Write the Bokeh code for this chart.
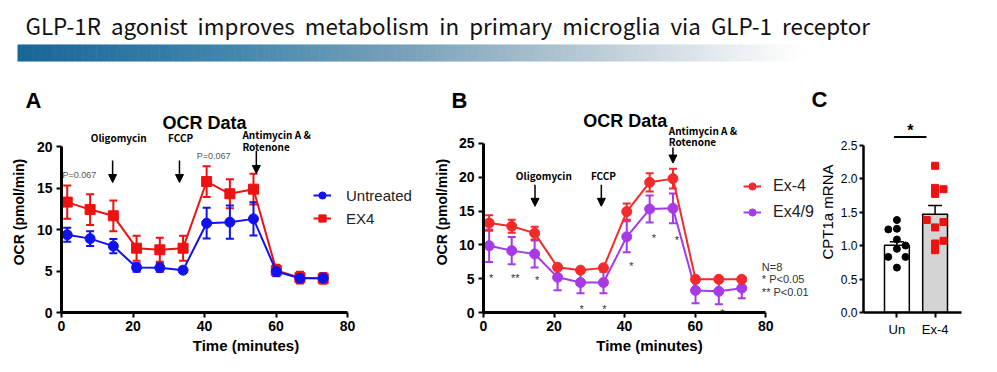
import numpy as np
from bokeh.plotting import figure
from bokeh.layouts import column, row
from bokeh.models import (Range1d, Whisker, ColumnDataSource, Label, Arrow, NormalHead,
                          TeeHead, Legend, LegendItem, FixedTicker, NumeralTickFormatter)
from bokeh.embed import file_html
from bokeh.resources import INLINE

# ---------------- data ----------------
title_words = ["GLP-1R", "agonist", "improves", "metabolism", "in", "primary", "microglia",
               "via", "GLP-1", "receptor"]
panel_letters = ["A", "B", "C"]

time_min = [1.6, 8.0, 14.5, 21.0, 27.5, 34.0, 40.6, 47.1, 53.7, 60.1, 66.7, 73.2]

untreated_mean = [9.36, 8.9, 8.0, 5.42, 5.4, 5.1, 10.76, 10.88, 11.28, 4.94, 4.13, 4.13]
untreated_err = [0.85, 0.88, 0.85, 0.5, 0.5, 0.3, 1.85, 2.0, 2.0, 0.5, 0.5, 0.55]
ex4a_mean = [13.3, 12.4, 11.65, 7.75, 7.55, 7.75, 15.78, 14.3, 14.86, 5.06, 4.2, 4.1]
ex4a_err = [2.0, 1.85, 1.85, 1.5, 1.45, 1.5, 1.85, 1.75, 1.85, 0.7, 0.7, 0.65]

ex4b_mean = [13.23, 12.75, 11.74, 6.69, 6.26, 6.6, 14.92, 19.25, 19.8, 4.9, 4.9, 4.9]
ex4b_err = [1.15, 0.95, 0.95, 0.3, 0.3, 0.3, 1.2, 1.35, 1.45, 0.3, 0.3, 0.3]
ex49_mean = [9.87, 9.15, 8.66, 5.2, 4.43, 4.43, 11.2, 15.3, 15.4, 3.27, 3.13, 3.6]
ex49_err = [2.4, 2.0, 2.0, 1.9, 1.6, 1.6, 2.3, 2.0, 2.2, 1.9, 1.9, 1.5]

star_x = [2.2, 9.0, 15.2, 27.8, 34.3, 41.9, 48.3, 54.8, 67.7]
star_y = [5.8, 5.8, 5.5, 1.3, 1.3, 7.6, 11.7, 11.5, 0.7]
star_txt = ["*", "**", "*", "*", "*", "*", "*", "*", "*"]

c_groups = ["Un", "Ex-4"]
c_mean = [1.005, 1.466]
c_sem = [0.05, 0.13]
un_vals = [1.38, 1.24, 1.25, 1.09, 1.00, 0.95, 0.83, 0.83, 0.67]
ex4_vals = [2.19, 1.86, 1.84, 1.77, 1.38, 1.35, 1.27, 1.07, 1.03, 0.93]
un_jitter = [0, -1, 0, 0, 1, 0, -1, 1, 0]
ex4_jitter = [0, 0, 1, 0, -1, 1, 0, 1, 0, 0]

BOLD = "Liberation Sans"
KFONT = "Noto Sans CJK KR"
HDR_H = 111

# ---------------- header ----------------
hdr = figure(width=989, height=HDR_H, x_range=Range1d(0, 989), y_range=Range1d(HDR_H, 0),
             output_backend="svg", toolbar_location=None, x_axis_type=None, y_axis_type=None,
             min_border=0, outline_line_color=None)
hdr.grid.visible = False
edges = np.linspace(17, 804, 301)
stops_t = [0.0, 0.25, 0.5, 0.75, 0.92, 1.0]
stops_c = np.array([[24, 102, 152], [62, 132, 172], [122, 162, 186], [190, 206, 216],
                    [236, 240, 243], [255, 255, 255]], dtype=float)
mid = np.linspace(0, 1, 300)
cols = ["#%02x%02x%02x" % tuple(int(round(np.interp(t, stops_t, stops_c[:, k]))) for k in range(3))
        for t in mid]
hdr.quad(left=edges[:-1], right=edges[1:] + 0.6, bottom=61, top=44, fill_color=cols, line_color=None)
hdr.add_layout(Label(x=25, y=24, text=" \u00a0".join(title_words), text_font=KFONT,
                     text_font_size="22.4px", text_color="#111111", text_baseline="middle"))
for lx, ly, letter in zip([33, 459, 819], [99.5, 99.5, 99.0], panel_letters):
    hdr.add_layout(Label(x=lx, y=ly, text=letter, text_font=BOLD, text_font_size="22px",
                         text_font_style="bold", text_color="black", text_align="center",
                         text_baseline="middle"))


def style_axes(p, lw=3, font=BOLD, size="14px", style="bold"):
    for ax in (p.xaxis[0], p.yaxis[0]):
        ax.axis_line_width = lw
        ax.axis_line_color = "black"
        ax.major_tick_line_width = 2
        ax.major_tick_out = 5
        ax.major_tick_in = 0
        ax.minor_tick_out = 0
        ax.minor_tick_in = 0
        ax.major_label_text_font = font
        ax.major_label_text_font_size = size
        ax.major_label_text_font_style = style
        ax.major_label_text_color = "black"
        ax.axis_label_text_font = font
        ax.axis_label_text_font_style = style
        ax.axis_label_text_color = "black"
    p.grid.visible = False
    p.outline_line_color = None


def series(p, x, mean, err, color, marker, size):
    src = ColumnDataSource(dict(x=x, y=mean, lo=[m - e for m, e in zip(mean, err)],
                                hi=[m + e for m, e in zip(mean, err)]))
    p.add_layout(Whisker(source=src, base="x", upper="hi", lower="lo", line_color=color,
                         line_width=2, level="underlay",
                         upper_head=TeeHead(size=8, line_color=color, line_width=2),
                         lower_head=TeeHead(size=8, line_color=color, line_width=2)))
    ln = p.line("x", "y", source=src, line_color=color, line_width=2)
    sc = p.scatter("x", "y", source=src, marker=marker, size=size, fill_color=color, line_color=color)
    return ln, sc


def arrow(p, x, y0, y1):
    p.add_layout(Arrow(end=NormalHead(size=8, fill_color="black", line_color="black"),
                       x_start=x, y_start=y0, x_end=x, y_end=y1, line_width=1.5, line_color="black"))


def txt(p, x, y, t, size="10px", font=KFONT, style="bold", color="black", align="left", base="middle"):
    p.add_layout(Label(x=x, y=y, text=t, text_font=font, text_font_size=size, text_font_style=style,
                       text_color=color, text_align=align, text_baseline=base))


# ---------------- panel A ----------------
A_AX = 312
pa = figure(width=430, height=364 - HDR_H, x_range=Range1d(0, 369 / 3.575),
            y_range=Range1d(0, (A_AX - HDR_H) / 8.3),
            output_backend="svg", toolbar_location=None,
            min_border_left=61, min_border_right=0, min_border_top=0, min_border_bottom=364 - A_AX)
style_axes(pa)
pa.xaxis.bounds = (0, 80)
pa.yaxis.bounds = (0, 20)
pa.xaxis.ticker = FixedTicker(ticks=[0, 20, 40, 60, 80])
pa.yaxis.ticker = FixedTicker(ticks=[0, 5, 10, 15, 20])
pa.xaxis.axis_label = "Time (minutes)"
pa.yaxis.axis_label = "OCR (pmol/min)"
pa.xaxis.axis_label_text_font_size = "15px"
pa.yaxis.axis_label_text_font_size = "14px"
pa.xaxis.major_label_standoff = 3
pa.yaxis.major_label_standoff = 4
pa.xaxis.axis_label_standoff = 3
pa.yaxis.axis_label_standoff = 7

red_a = "#ee1111"
blue_a = "#1111ee"
lr, sr = series(pa, time_min, ex4a_mean, ex4a_err, red_a, "square", 10)
lb, sb = series(pa, time_min, untreated_mean, untreated_err, blue_a, "circle", 10)
pa.add_layout(Legend(items=[LegendItem(label="Untreated", renderers=[lb, sb]),
                            LegendItem(label="EX4", renderers=[lr, sr])],
                     location=(252, 84), label_text_font=BOLD, label_text_font_size="15px",
                     label_text_color="#222222", glyph_width=18, glyph_height=20, label_height=20,
                     label_standoff=15, spacing=3, padding=0, margin=0, border_line_color=None,
                     background_fill_alpha=0))
ya = lambda ry: (A_AX - ry) / 8.3
txt(pa, 40.0, ya(122), "OCR Data", size="18px", font=BOLD, align="center")
txt(pa, 16.0, ya(137), "Oligomycin", align="center")
txt(pa, 33.3, ya(137), "FCCP", align="center")
txt(pa, 50.6, ya(134), "Antimycin A &")
txt(pa, 50.6, ya(146), "Rotenone")
txt(pa, 0.3, ya(174), "P=0.067", size="9px", font=BOLD, style="normal", color="#555555")
txt(pa, 37.8, ya(155), "P=0.067", size="9px", font=BOLD, style="normal", color="#555555")
arrow(pa, 14.3, 18.3, 15.66)
arrow(pa, 33.0, 18.3, 15.66)
arrow(pa, 54.5, 19.5, 16.75)

# ---------------- panel B ----------------
B_AX = 317
pb = figure(width=385, height=364 - HDR_H, x_range=Range1d(0, 335 / 3.56),
            y_range=Range1d(0, (B_AX - HDR_H) / 6.93),
            output_backend="svg", toolbar_location=None,
            min_border_left=50, min_border_right=0, min_border_top=0, min_border_bottom=364 - B_AX)
style_axes(pb)
pb.xaxis.bounds = (0, 80)
pb.yaxis.bounds = (0, 25)
pb.xaxis.ticker = FixedTicker(ticks=[0, 20, 40, 60, 80])
pb.yaxis.ticker = FixedTicker(ticks=[0, 5, 10, 15, 20, 25])
pb.xaxis.axis_label = "Time (minutes)"
pb.yaxis.axis_label = "OCR (pmol/min)"
pb.xaxis.axis_label_text_font_size = "15px"
pb.yaxis.axis_label_text_font_size = "14px"
pb.xaxis.major_label_standoff = 3
pb.yaxis.major_label_standoff = 4
pb.xaxis.axis_label_standoff = 3
pb.yaxis.axis_label_standoff = 6

red_b = "#f42a2a"
purple_b = "#a63be6"
lp, sp = series(pb, time_min, ex49_mean, ex49_err, purple_b, "circle", 10)
lr2, sr2 = series(pb, time_min, ex4b_mean, ex4b_err, red_b, "circle", 10)
pb.add_layout(Legend(items=[LegendItem(label="Ex-4", renderers=[lr2, sr2]),
                            LegendItem(label="Ex4/9", renderers=[lp, sp])],
                     location=(260, 90), label_text_font=BOLD, label_text_font_size="16px",
                     label_text_color="#222222", glyph_width=18, glyph_height=20, label_height=20,
                     label_standoff=12, spacing=6, padding=0, margin=0, border_line_color=None,
                     background_fill_alpha=0))
yb = lambda ry: (B_AX - ry) / 6.93
txt(pb, 40.2, yb(121), "OCR Data", size="18px", font=BOLD, align="center")
txt(pb, 17.1, yb(177), "Oligomycin", align="center")
txt(pb, 34.0, yb(177), "FCCP", align="center")
txt(pb, 52.5, yb(130), "Antimycin A &")
txt(pb, 52.5, yb(142), "Rotenone")
arrow(pb, 14.6, 18.9, 15.7)
arrow(pb, 33.4, 18.9, 15.7)
arrow(pb, 53.7, 24.4, 22.1)
stars = ColumnDataSource(dict(x=star_x, y=star_y, t=star_txt))
pb.text("x", "y", text="t", source=stars, text_font_size="11px", text_color="#333333",
        text_align="center", text_baseline="middle", y_offset=5)
txt(pb, 78.9, yb(270), "N=8", size="11px", font=BOLD, style="normal", color="#333333")
txt(pb, 78.9, yb(283), "* P<0.05", size="11px", font=BOLD, style="normal", color="#333333")
txt(pb, 78.9, yb(296), "** P<0.01", size="11px", font=BOLD, style="normal", color="#333333")

# ---------------- panel C ----------------
C_AX = 315
pc = figure(width=174, height=364 - HDR_H, x_range=Range1d(0.125, 0.125 + 132 / 40),
            y_range=Range1d(0, (C_AX - HDR_H) / 68),
            output_backend="svg", toolbar_location=None,
            min_border_left=42, min_border_right=0, min_border_top=0, min_border_bottom=364 - C_AX)
style_axes(pc, lw=2.5, size="12px", style="normal")
pc.xaxis.bounds = (0.125, 2.7)
pc.yaxis.bounds = (0, 2.5)
pc.xaxis.ticker = FixedTicker(ticks=[1, 2])
pc.xaxis.major_label_overrides = {1: c_groups[0], 2: c_groups[1]}
pc.xaxis.major_label_text_font_size = "13px"
pc.yaxis.ticker = FixedTicker(ticks=[0, 0.5, 1.0, 1.5, 2.0, 2.5])
pc.yaxis.formatter = NumeralTickFormatter(format="0.0")
pc.yaxis.axis_label = "CPT1a mRNA"
pc.yaxis.axis_label_text_font_size = "15px"
pc.yaxis.major_label_standoff = 2
pc.yaxis.major_tick_out = 4
pc.yaxis.axis_label_standoff = 2
pc.xaxis.major_label_standoff = 4

xpos = [1, 2]
pc.vbar(x=xpos, top=c_mean, width=0.65, fill_color=["white", "#d4d4d4"], line_color="black",
        line_width=1.5)
csrc = ColumnDataSource(dict(x=xpos, lo=[m - s for m, s in zip(c_mean, c_sem)],
                             hi=[m + s for m, s in zip(c_mean, c_sem)]))
pc.add_layout(Whisker(source=csrc, base="x", upper="hi", lower="lo", line_color="black", line_width=1.5,
                      upper_head=TeeHead(size=14, line_color="black", line_width=1.5),
                      lower_head=TeeHead(size=14, line_color="black", line_width=1.5)))
pc.scatter([1 + 0.225 * j for j in un_jitter], un_vals, marker="circle", size=7,
           fill_color="black", line_color="black")
pc.scatter([2 + 0.22 * j for j in ex4_jitter], ex4_vals, marker="square", size=7,
           fill_color="#ee1111", line_color="#ee1111")
pc.segment(x0=[0.925], y0=[2.62], x1=[1.775], y1=[2.62], line_color="black", line_width=2)
txt(pc, 1.35, 2.72, "*", size="16px", font=BOLD, align="center")

layout = column(hdr, row(pa, pb, pc, spacing=0), spacing=0)
open("out.html", "w").write(file_html(layout, INLINE))
